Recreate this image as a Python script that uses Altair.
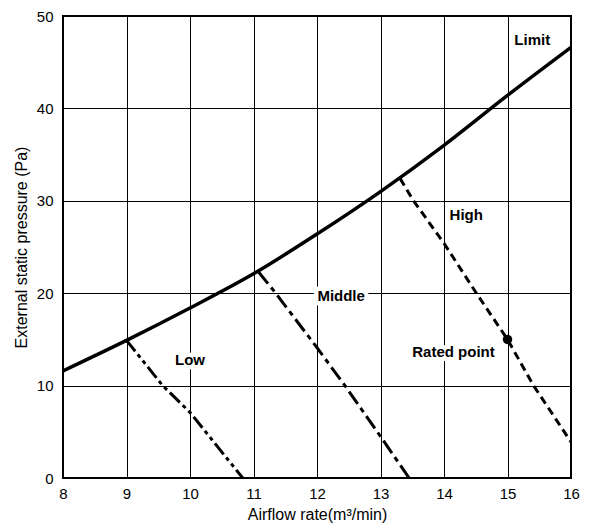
import altair as alt
import pandas as pd

# ---- data ----
limit_x = [8, 9, 10, 11, 12, 13, 14, 15, 16]
limit_y = [11.6, 14.9, 18.4, 22.1, 26.4, 31.0, 36.0, 41.4, 46.6]

low_x = [9.0, 9.57, 10.0, 10.83]
low_y = [14.9, 10.0, 7.1, 0.0]

mid_x = [11.08, 11.35, 12.0, 12.44, 13.0, 13.45]
mid_y = [22.3, 20.0, 14.1, 10.0, 4.5, 0.0]

high_x = [13.31, 13.52, 14.0, 14.51, 15.0, 15.41, 16.0]
high_y = [32.4, 30.0, 25.4, 20.0, 15.0, 10.0, 3.9]

rated_x = [15.0]
rated_y = [15.0]

label_text = ["Limit", "High", "Middle", "Low", "Rated point"]
label_x = [15.39, 14.35, 12.38, 10.0, 14.15]
label_y = [47.4, 28.5, 19.7, 12.8, 13.6]

x_ticks = [8, 9, 10, 11, 12, 13, 14, 15, 16]
y_ticks = [0, 10, 20, 30, 40, 50]

FONT = "Liberation Sans"

xs = alt.Scale(domain=[8, 16], nice=False)
ys = alt.Scale(domain=[0, 50], nice=False)

xax = alt.Axis(values=x_ticks, format="d", title="Airflow rate(m³/min)", grid=True)
yax = alt.Axis(values=y_ticks, format="d", title="External static pressure (Pa)", grid=True)


def line_layer(xv, yv, dash=None, width=3.0):
    df = pd.DataFrame({"x": xv, "y": yv})
    kw = dict(color="black", strokeWidth=width, clip=True)
    if dash:
        kw["strokeDash"] = dash
    return alt.Chart(df).mark_line(**kw).encode(
        x=alt.X("x:Q", scale=xs, axis=xax),
        y=alt.Y("y:Q", scale=ys, axis=yax),
    )


limit = alt.Chart(pd.DataFrame({"x": limit_x, "y": limit_y})).mark_line(
    color="black", strokeWidth=3.5, interpolate="monotone", clip=True
).encode(x=alt.X("x:Q", scale=xs, axis=xax), y=alt.Y("y:Q", scale=ys, axis=yax))

low = line_layer(low_x, low_y, dash=[14, 4, 4, 4, 4, 4])
mid = line_layer(mid_x, mid_y, dash=[15, 5, 5, 5])
high = line_layer(high_x, high_y, dash=[8, 5])

rated = alt.Chart(pd.DataFrame({"x": rated_x, "y": rated_y})).mark_point(
    filled=True, color="black", size=90, opacity=1
).encode(x=alt.X("x:Q", scale=xs), y=alt.Y("y:Q", scale=ys))

ldf = pd.DataFrame({"t": label_text, "x": label_x, "y": label_y})
label_bg = alt.Chart(ldf).mark_text(
    font=FONT, fontSize=15, fontWeight="bold", color="white",
    stroke="white", strokeWidth=9, strokeJoin="round"
).encode(x=alt.X("x:Q", scale=xs), y=alt.Y("y:Q", scale=ys), text="t:N")
labels = alt.Chart(ldf).mark_text(
    font=FONT, fontSize=15, fontWeight="bold", color="black"
).encode(x=alt.X("x:Q", scale=xs), y=alt.Y("y:Q", scale=ys), text="t:N")

chart = alt.layer(
    limit, low, mid, high, label_bg, labels, rated
).properties(
    width=508, height=462,
    autosize=alt.AutoSizeParams(type="none"),
    padding={"left": 55, "top": 8, "right": 16, "bottom": 50},
    background="white",
).configure_view(
    stroke="black", strokeWidth=2
).configure_axis(
    gridColor="black", gridWidth=1, gridOpacity=1,
    domain=False, ticks=False, labelFlush=False,
    labelFont=FONT, labelFontSize=15, labelColor="black",
    titleFont=FONT, titleFontSize=16, titleFontWeight="normal", titleColor="black",
).configure_axisX(
    labelPadding=8, titlePadding=5
).configure_axisY(
    labelPadding=10, titlePadding=7
)

chart.save("out.html", embed_options={"renderer": "svg", "actions": False})
